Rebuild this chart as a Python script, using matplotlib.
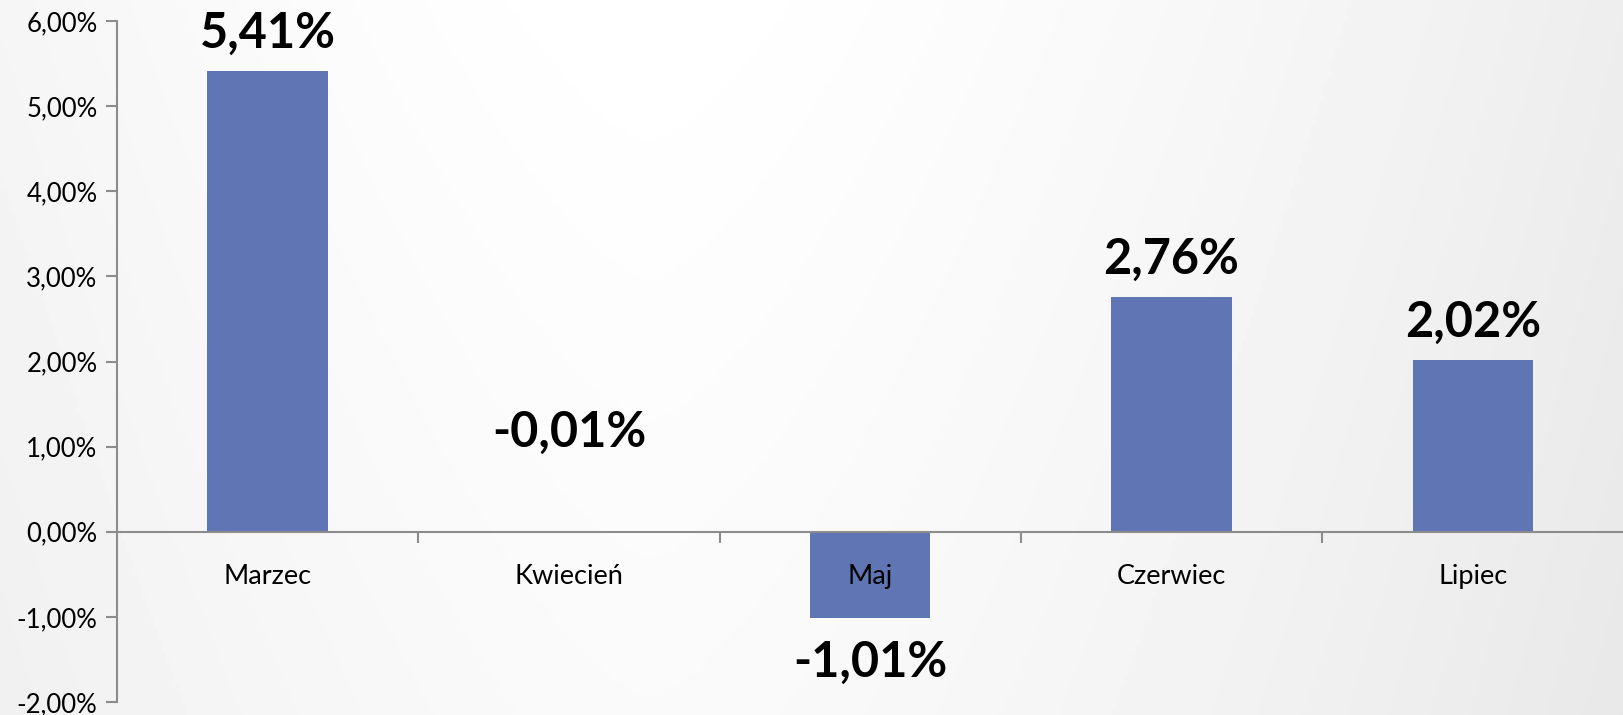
import numpy as np
import matplotlib.pyplot as plt
from matplotlib.ticker import FuncFormatter

# data
months = ['Marzec', 'Kwiecień', 'Maj', 'Czerwiec', 'Lipiec']
changes = [5.41, -0.01, -1.01, 2.76, 2.02]

bar_color = '#6075b4'
axis_color = '#8c8c8c'
plt.rcParams['font.family'] = ['Lato', 'DejaVu Sans']

fig = plt.figure(figsize=(16.23, 7.15), dpi=100)

# soft grey gradient background
bg = fig.add_axes([0, 0, 1, 1], zorder=-10)
xx = np.linspace(0, 1, 400)
yy = np.linspace(0, 1, 200)
X, Y = np.meshgrid(xx, yy)
shade = 1 - 0.07 * np.clip(np.abs(X - 0.4) / 0.6, 0, 1) ** 1.5 - 0.02 * Y
bg.imshow(shade, cmap='gray', vmin=0, vmax=1, aspect='auto', extent=[0, 1, 0, 1])
bg.axis('off')

ax = fig.add_axes([0.0721, 0.0182, 0.93, 0.9524])
ax.patch.set_alpha(0)
ax.set_axisbelow(False)

x = np.arange(len(months))
ax.bar(x, changes, width=0.4, color=bar_color, zorder=2)

ax.set_xlim(-0.5, len(months) - 0.5 + 0.01)
ax.set_ylim(-2, 6)
ax.set_yticks(np.arange(-2, 7, 1))
ax.yaxis.set_major_formatter(FuncFormatter(lambda v, p: f'{v:.2f}%'.replace('.', ',')))

# ticks on category boundaries, labels at centres
ax.set_xticks(np.arange(0.5, len(months) - 0.5, 1))
ax.set_xticklabels([])
ax.set_xticks(x, minor=True)
ax.set_xticklabels(months, minor=True)
ax.tick_params(axis='x', which='major', length=8, width=1.5, color=axis_color, direction='out')
ax.tick_params(axis='x', which='minor', length=0, pad=23, labelsize=19.5)
ax.tick_params(axis='y', length=8, width=1.5, color=axis_color, labelsize=18.5, pad=6)

for s in ['top', 'right']:
    ax.spines[s].set_visible(False)
ax.spines['bottom'].set_position(('data', 0))
ax.spines['bottom'].set_color(axis_color)
ax.spines['bottom'].set_linewidth(1.5)
ax.spines['bottom'].set_zorder(3)
ax.spines['left'].set_color(axis_color)
ax.spines['left'].set_linewidth(1.5)

# value labels
for i, v in enumerate(changes):
    txt = f'{v:.2f}%'.replace('.', ',')
    if v >= 0:
        y = v + 0.44
    elif v > -0.5:
        y = 1.17
    else:
        y = v - 0.52
    ax.text(i, y, txt, ha='center', va='center', fontsize=35, fontweight='bold',
            color='black', zorder=4)

fig.savefig('out.png', dpi=100)
